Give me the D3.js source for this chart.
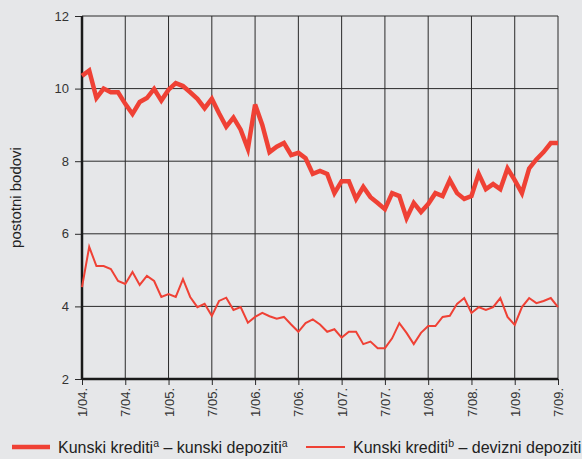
<!DOCTYPE html>
<html>
<head>
<meta charset="utf-8">
<script src="https://cdn.jsdelivr.net/npm/d3@7"></script>
<style>
  body { margin: 0; background: #e6e7e9; }
  svg { display: block; font-family: "Liberation Sans", Arial, sans-serif; }
</style>
</head>
<body>
<script>
// Monthly data, 1/2004 - 7/2009 (month index 0..66)
var kunKun = [10.35, 10.5, 9.74, 10.0, 9.9, 9.9, 9.58, 9.3, 9.63, 9.74, 9.99, 9.67,
  9.97, 10.15, 10.07, 9.9, 9.72, 9.46, 9.72, 9.32, 8.95, 9.2, 8.87, 8.34,
  9.56, 9.0, 8.25, 8.4, 8.5, 8.17, 8.23, 8.08, 7.65, 7.73, 7.65, 7.12,
  7.45, 7.45, 6.96, 7.29, 7.01, 6.85, 6.68, 7.12, 7.04, 6.43, 6.85, 6.6,
  6.82, 7.12, 7.04, 7.48, 7.12, 6.96, 7.04, 7.65, 7.23, 7.37, 7.23, 7.8,
  7.48, 7.12, 7.8, 8.05, 8.25, 8.5, 8.5];

var kunDev = [4.53, 5.64, 5.11, 5.11, 5.03, 4.7, 4.62, 4.95, 4.59, 4.84, 4.7, 4.26,
  4.34, 4.26, 4.75, 4.26, 3.98, 4.07, 3.74, 4.15, 4.24, 3.9, 3.98, 3.55,
  3.71, 3.82, 3.73, 3.66, 3.71, 3.5, 3.3, 3.54, 3.64, 3.5, 3.3, 3.37,
  3.14, 3.3, 3.3, 2.96, 3.03, 2.85, 2.85, 3.12, 3.54, 3.27, 2.96, 3.27,
  3.46, 3.46, 3.71, 3.74, 4.07, 4.23, 3.82, 3.98, 3.9, 3.98, 4.23, 3.71,
  3.49, 3.98, 4.23, 4.09, 4.15, 4.23, 3.98];

var xTickIdx = [0, 6, 12, 18, 24, 30, 36, 42, 48, 54, 60, 66];
var xTickLabels = ["1/04.", "7/04.", "1/05.", "7/05.", "1/06.", "7/06.",
  "1/07.", "7/07.", "1/08.", "7/08.", "1/09.", "7/09."];
var yTicks = [2, 4, 6, 8, 10, 12];

var red = "#ef4135";

var svgW = 582, svgH = 459;
var margin = {top: 16, right: 24, bottom: 80, left: 82},
    width = svgW - margin.left - margin.right,
    height = svgH - margin.top - margin.bottom;

var x = d3.scaleLinear().domain([0, 66]).range([0, width]);
var y = d3.scaleLinear().domain([2, 12]).range([height, 0]);

var svg = d3.select("body").append("svg")
    .attr("width", svgW)
    .attr("height", svgH);

var g = svg.append("g")
    .attr("transform", "translate(" + margin.left + "," + margin.top + ")");

// grid
g.selectAll(".hgrid")
  .data(yTicks.slice(1))
  .enter().append("line")
    .attr("x1", 0).attr("x2", width)
    .attr("y1", function(d) { return y(d); })
    .attr("y2", function(d) { return y(d); })
    .attr("stroke", "#2a2a2a").attr("stroke-width", 1);

g.selectAll(".vgrid")
  .data(xTickIdx.slice(1))
  .enter().append("line")
    .attr("x1", function(d) { return x(d); })
    .attr("x2", function(d) { return x(d); })
    .attr("y1", 0).attr("y2", height)
    .attr("stroke", "#2a2a2a").attr("stroke-width", 1);

// y axis
var yAxis = g.append("g")
    .call(d3.axisLeft(y).tickValues(yTicks).tickSize(7).tickPadding(6));
yAxis.select(".domain").remove();
yAxis.selectAll(".tick line").attr("stroke", "#2a2a2a");
yAxis.selectAll(".tick text")
    .style("font-size", "13px")
    .style("font-family", "Liberation Sans, Arial, sans-serif")
    .attr("fill", "#333");

// x axis
var xAxis = g.append("g")
    .attr("transform", "translate(0," + height + ")")
    .call(d3.axisBottom(x).tickValues(xTickIdx).tickSize(6)
      .tickFormat(function(d, i) { return xTickLabels[i]; }));
xAxis.select(".domain").remove();
xAxis.selectAll(".tick line").attr("stroke", "#2a2a2a");
xAxis.selectAll(".tick text")
    .style("font-size", "13px")
    .style("font-family", "Liberation Sans, Arial, sans-serif")
    .attr("fill", "#333")
    .attr("text-anchor", "end")
    .attr("transform", "rotate(-90)")
    .attr("x", -9)
    .attr("y", 0)
    .attr("dy", "0.35em");

// axis lines
g.append("line")
    .attr("x1", 0).attr("x2", 0).attr("y1", 0).attr("y2", height)
    .attr("stroke", "#1a1a1a").attr("stroke-width", 2.5);
g.append("line")
    .attr("x1", 0).attr("x2", width).attr("y1", height).attr("y2", height)
    .attr("stroke", "#1a1a1a").attr("stroke-width", 2.5);

// lines
var line = d3.line()
    .x(function(d, i) { return x(i); })
    .y(function(d) { return y(d); });

g.append("path")
    .datum(kunDev)
    .attr("fill", "none")
    .attr("stroke", red)
    .attr("stroke-width", 2)
    .attr("d", line);

g.append("path")
    .datum(kunKun)
    .attr("fill", "none")
    .attr("stroke", red)
    .attr("stroke-width", 4.5)
    .attr("d", line);

// y title
svg.append("text")
    .attr("transform", "translate(21," + (margin.top + height / 2) + ") rotate(-90)")
    .attr("text-anchor", "middle")
    .style("font-size", "15px")
    .attr("fill", "#222")
    .text("postotni bodovi");

// legend
var legend = svg.append("g").attr("transform", "translate(0,447)");

legend.append("line")
    .attr("x1", 12).attr("x2", 50).attr("y1", 0).attr("y2", 0)
    .attr("stroke", red).attr("stroke-width", 4.5);
var t1 = legend.append("text")
    .attr("x", 58).attr("y", 5.5)
    .style("font-size", "16px").attr("fill", "#222");
t1.append("tspan").text("Kunski krediti");
t1.append("tspan").attr("dy", -6).style("font-size", "10.5px").text("a");
t1.append("tspan").attr("dy", 6).text(" – kunski depoziti");
t1.append("tspan").attr("dy", -6).style("font-size", "10.5px").text("a");

legend.append("line")
    .attr("x1", 306).attr("x2", 345).attr("y1", 0).attr("y2", 0)
    .attr("stroke", red).attr("stroke-width", 2);
var t2 = legend.append("text")
    .attr("x", 353).attr("y", 5.5)
    .style("font-size", "16px").attr("fill", "#222");
t2.append("tspan").text("Kunski krediti");
t2.append("tspan").attr("dy", -6).style("font-size", "10.5px").text("b");
t2.append("tspan").attr("dy", 6).text(" – devizni depoziti");
</script>
</body>
</html>
